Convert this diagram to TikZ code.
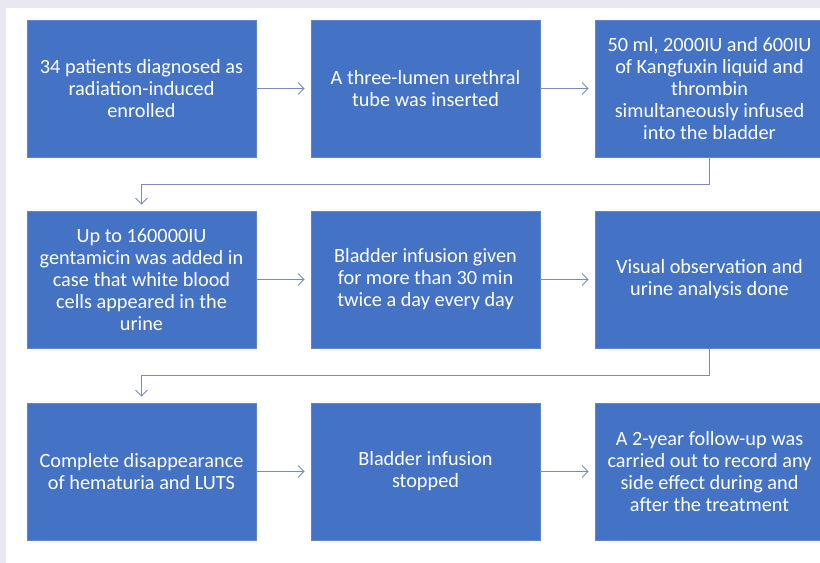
\documentclass[tikz,border=0pt]{standalone}
\usepackage{fontspec}
\setmainfont{Carlito}
\usetikzlibrary{arrows.meta}
\definecolor{fcblue}{RGB}{68,114,196}
\definecolor{fcedge}{RGB}{96,132,200}
\definecolor{fcline}{RGB}{118,142,190}
\definecolor{fcpage}{RGB}{232,232,242}

\begin{document}
\begin{tikzpicture}[
  x=0.75pt,y=-0.75pt,
  font=\fontsize{15.2}{16.5}\selectfont,
  procbox/.style={draw=fcedge,fill=fcblue,text=white,align=center,
                  minimum width=171.75pt,minimum height=102.75pt,inner sep=0pt,line width=0.4pt},
  flow/.style={->,fcline,line width=0.7pt,shorten >=4.5pt},
  >={Straight Barb[length=4.5pt,width=9pt]}
]
  \clip (0,0) rectangle (820,563);
  \fill[fcpage] (0,0) rectangle (820,563);
  \fill[white] (6,8) rectangle (820,563);

  % first row
  \node[procbox] (s1) at (141.5,88.5) {34 patients diagnosed as\\radiation-induced\\enrolled};
  \node[procbox] (s2) at (425.5,88.5) {A three-lumen urethral\\tube was inserted};
  \node[procbox] (s3) at (709.5,88.5) {50 ml, 2000IU and 600IU\\of Kangfuxin liquid and\\thrombin\\simultaneously infused\\into the bladder};

  % second row
  \node[procbox] (s4) at (141.5,279.5) {Up to 160000IU\\gentamicin was added in\\case that white blood\\cells appeared in the\\urine};
  \node[procbox] (s5) at (425.5,279.5) {Bladder infusion given\\for more than 30 min\\twice a day every day};
  \node[procbox] (s6) at (709.5,279.5) {Visual observation and\\urine analysis done};

  % third row
  \node[procbox] (s7) at (141.5,471.5) {Complete disappearance\\of hematuria and LUTS};
  \node[procbox] (s8) at (425.5,471.5) {Bladder infusion\\stopped};
  \node[procbox] (s9) at (709.5,471.5) {A 2-year follow-up was\\carried out to record any\\side effect during and\\after the treatment};

  \draw[flow] (s1) -- (s2);
  \draw[flow] (s2) -- (s3);
  \draw[flow] (s3.south) -- ++(0,27) -| (s4.north);
  \draw[flow] (s4) -- (s5);
  \draw[flow] (s5) -- (s6);
  \draw[flow] (s6.south) -- ++(0,27) -| (s7.north);
  \draw[flow] (s7) -- (s8);
  \draw[flow] (s8) -- (s9);
\end{tikzpicture}
\end{document}
